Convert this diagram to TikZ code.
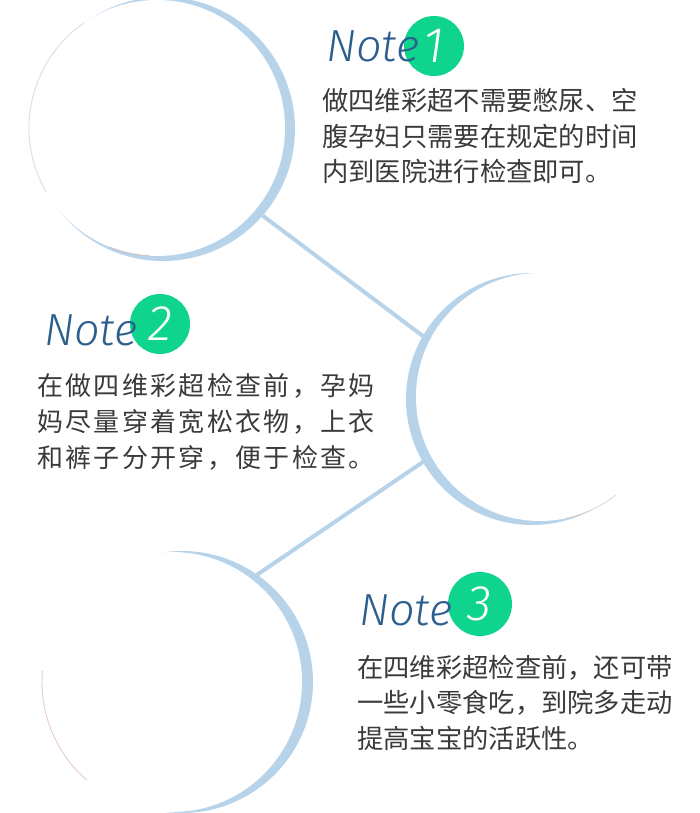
\documentclass[tikz,border=0pt]{standalone}
\usepackage{fontspec}
\setmainfont{Noto Sans CJK SC}
\newfontfamily\notefont{Fira Sans Light Italic}
\definecolor{ringblue}{HTML}{B7D3EA}
\definecolor{notegreen}{HTML}{0ED48E}
\definecolor{noteblue}{HTML}{2C5F8E}
\definecolor{bodygray}{HTML}{3A3A3A}
\definecolor{edgegray}{HTML}{CFC6BE}
\definecolor{edgerust}{HTML}{C98F78}
\begin{document}
\begin{tikzpicture}[x=1pt,y=-1pt,
  ring/.style={circle,fill=ringblue,inner sep=0pt,outer sep=0pt,minimum size=#1},
  disc/.style={circle,fill=white,inner sep=0pt,outer sep=0pt,minimum size=#1},
  link/.style={draw=ringblue,line width=4pt},
  edge/.style={line width=0.9pt,opacity=0.6},
  notehead/.style={anchor=base west,text=noteblue,inner sep=0pt,
    font=\notefont\fontsize{45}{45}\selectfont},
  badge/.style={circle,fill=notegreen,text=white,inner sep=0pt,minimum size=60pt,
    font=\notefont\fontsize{50}{50}\selectfont},
  body/.style={anchor=base west,text=bodygray,inner sep=0pt,
    font=\fontsize{26.3}{26.3}\selectfont}]
  \useasboundingbox (0,0) rectangle (700,813);
  % rings
  \node[ring=264pt] (c1) at (163,129) {};
  \node[disc=256pt] (d1) at (157,128) {};
  \node[ring=252pt] (c2) at (532,399) {};
  \node[disc=248pt] (d2) at (540,397) {};
  \node[ring=262pt] (c3) at (182,682) {};
  \node[disc=260pt] (d3) at (172,682) {};
  \draw[edge,edgegray] (d1) ++(150:128) arc[start angle=150,end angle=235,radius=128];
  \draw[edge,edgerust,opacity=0.4] (d1) ++(93:128) arc[start angle=93,end angle=112,radius=128];
  \draw[edge,edgegray] (d2) ++(52:124) arc[start angle=52,end angle=78,radius=124];
  \draw[edge,edgerust,opacity=0.45] (d3) ++(131:130) arc[start angle=131,end angle=185,radius=130];
  % links
  \draw[link] (c1.-41.6) -- (c2.150.4);
  \draw[link] (c2.210.5) -- (c3.55.1);
  % note 1
  \node[badge] (b1) at (434,46) {1};
  \node[notehead] (n1) at (326,62) {Note};
  \foreach \txt [count=\i] in {做四维彩超不需要憋尿、空,腹孕妇只需要在规定的时间,内到医院进行检查即可。}
    \node[body] (t1-\i) at (322,{111+35.5*(\i-1)}) {\txt};
  % note 2
  \node[badge] (b2) at (160,324) {2};
  \node[notehead] (n2) at (44,345) {Note};
  \foreach \txt [count=\i] in {在做四维彩超检查前，孕妈,妈尽量穿着宽松衣物，上衣,和裤子分开穿，便于检查。}
    \node[body,font=\fontsize{26}{26}\selectfont\addfontfeature{LetterSpace=9}] (t2-\i) at (37,{395+36*(\i-1)}) {\txt};
  % note 3
  \node[badge,minimum size=64pt] (b3) at (480,604) {3};
  \node[notehead] (n3) at (359,625) {Note};
  \foreach \txt [count=\i] in {在四维彩超检查前，还可带,一些小零食吃，到院多走动,提高宝宝的活跃性。}
    \node[body] (t3-\i) at (357,{677+35.5*(\i-1)}) {\txt};
\end{tikzpicture}
\end{document}
